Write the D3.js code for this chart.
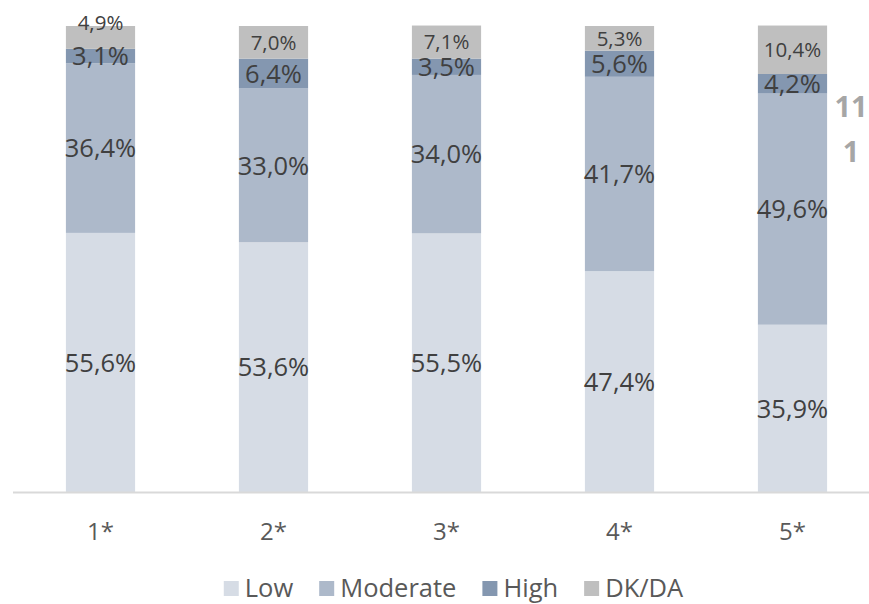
<!DOCTYPE html>
<html>
<head>
<meta charset="utf-8">
<script src="https://cdn.jsdelivr.net/npm/d3@7"></script>
<style>
  html, body { margin: 0; padding: 0; background: #fff; }
  svg { display: block; font-family: "Open Sans", "Noto Sans", sans-serif; }
</style>
</head>
<body>
<svg id="chart" width="869" height="604"></svg>
<script>
// Risk perception shares by group (percent)
const categories = ["1*", "2*", "3*", "4*", "5*"];
const seriesNames = ["Low", "Moderate", "High", "DK/DA"];
const low      = [55.6, 53.6, 55.5, 47.4, 35.9];
const moderate = [36.4, 33.0, 34.0, 41.7, 49.6];
const high     = [3.1, 6.4, 3.5, 5.6, 4.2];
const dkda     = [4.9, 7.0, 7.1, 5.3, 10.4];
const sideNote = ["11", "1"];

const colors = ["#d6dce5", "#adb9ca", "#8497b0", "#bfbfbf"];
const labelSizes = [25.5, 25.5, 25.5, 20.5];

const rows = categories.map((c, i) => ({
  cat: c, "Low": low[i], "Moderate": moderate[i], "High": high[i], "DK/DA": dkda[i]
}));

const svg = d3.select("#chart");
const W = 869, H = 604;

const x = d3.scaleBand().domain(categories).range([14, 879]).paddingInner(0.6).paddingOuter(0.3);
const y = d3.scaleLinear().domain([0, 100]).range([492, 26]);

const stack = d3.stack().keys(seriesNames);
const layers = stack(rows);

const locale = d3.formatLocale({ decimal: ",", thousands: ".", grouping: [3], currency: ["", "€"] });
const fmt = locale.format(".1f");

// stacked segments
const g = svg.append("g");
layers.forEach((layer, si) => {
  g.selectAll(null).data(layer).enter().append("rect")
    .attr("x", d => x(d.data.cat))
    .attr("width", x.bandwidth())
    .attr("y", d => y(d[1]))
    .attr("height", d => y(d[0]) - y(d[1]))
    .attr("fill", colors[si]);
});

// baseline axis
svg.append("line")
  .attr("x1", 13).attr("x2", W)
  .attr("y1", y(0) + 0.5).attr("y2", y(0) + 0.5)
  .attr("stroke", "#d9d9d9").attr("stroke-width", 2);

// category labels
const xAxis = d3.axisBottom(x).tickSize(0).tickPadding(0);
const ax = svg.append("g").attr("transform", `translate(0, ${y(0)})`).call(xAxis);
ax.select(".domain").remove();
ax.selectAll("text")
  .attr("y", 48)
  .attr("dy", 0)
  .attr("fill", "#595959")
  .style("font-family", "'Open Sans', sans-serif")
  .style("font-size", "24px");

// segment value labels, centred; a top label that would collide with the
// one below it is lifted to the top of the bar
const labels = svg.append("g").attr("fill", "#404040").attr("text-anchor", "middle");
categories.forEach((c, ci) => {
  const centers = layers.map(l => (y(l[ci][0]) + y(l[ci][1])) / 2);
  layers.forEach((layer, si) => {
    const d = layer[ci];
    let cy = centers[si];
    if (si === layers.length - 1) {
      const below = centers[si - 1];
      const overlap = (cy + labelSizes[si] / 2) > (below - labelSizes[si - 1] / 2);
      if (overlap) cy = y(d[1]) - 3;
    }
    labels.append("text")
      .attr("x", x(c) + x.bandwidth() / 2)
      .attr("y", cy)
      .attr("dy", "0.36em")
      .style("font-size", labelSizes[si] + "px")
      .text(fmt(d.data[seriesNames[si]]) + "%");
  });
});

// legend
const legend = svg.append("g");
const sq = 15, gapText = 6, gapItem = 26;
let cursor = 0;
seriesNames.forEach((name, i) => {
  const item = legend.append("g");
  item.append("rect").attr("x", 0).attr("y", -16).attr("width", sq).attr("height", sq).attr("fill", colors[i]);
  const t = item.append("text").attr("x", sq + gapText).attr("y", 0)
    .attr("fill", "#595959").style("font-size", "25.5px").text(name);
  const w = sq + gapText + t.node().getComputedTextLength();
  item.attr("transform", `translate(${cursor}, 0)`);
  cursor += w + gapItem;
});
const total = cursor - gapItem;
legend.attr("transform", `translate(${453.5 - total / 2}, 597)`);

// side note
svg.append("g").attr("fill", "#a6a6a6").attr("text-anchor", "middle")
  .style("font-weight", "bold").style("font-size", "29px")
  .selectAll("text").data(sideNote).enter().append("text")
  .attr("x", 851)
  .attr("y", (d, i) => 117 + i * 45)
  .text(d => d);
</script>
</body>
</html>
